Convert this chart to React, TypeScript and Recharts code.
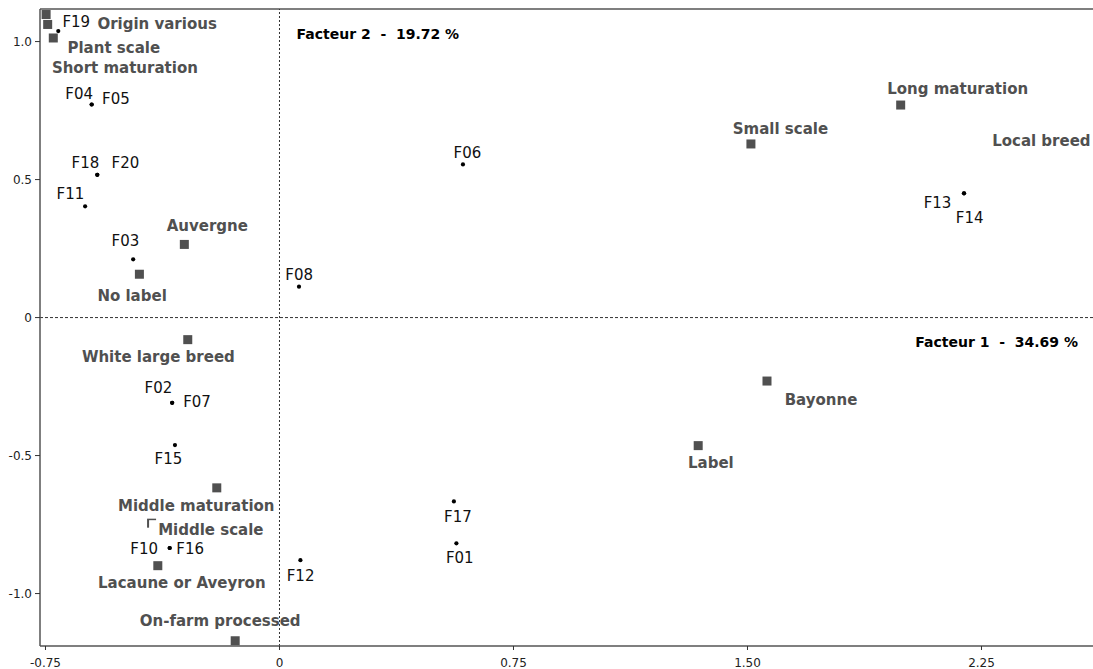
import React from 'react';
import { ScatterChart, Scatter, XAxis, YAxis, ReferenceLine } from 'recharts';

// individuals (factor 1 / factor 2 coordinates)
const indNames = ['F01', 'F02', 'F03', 'F04', 'F05', 'F06', 'F07', 'F08', 'F10', 'F11', 'F12', 'F13', 'F14', 'F15', 'F16', 'F17', 'F18', 'F19', 'F20'];
const indF1 = [0.567, -0.344, -0.469, -0.602, -0.602, 0.588, -0.344, 0.0625, -0.352, -0.623, 0.067, 2.194, 2.194, -0.335, -0.352, 0.559, -0.584, -0.709, -0.584];
const indF2 = [-0.818, -0.309, 0.211, 0.772, 0.772, 0.555, -0.309, 0.112, -0.835, 0.403, -0.879, 0.45, 0.45, -0.462, -0.835, -0.666, 0.517, 1.038, 0.517];

// modalities
const modNames = ['Origin various', 'Short maturation', 'Plant scale', 'Auvergne', 'No label', 'White large breed', 'Middle maturation', 'Middle scale', 'Lacaune or Aveyron', 'On-farm processed', 'Label', 'Bayonne', 'Small scale', 'Long maturation', 'Local breed'];
const modF1 = [-0.748, -0.743, -0.725, -0.305, -0.449, -0.294, -0.201, -0.41, -0.39, -0.142, 1.342, 1.5625, 1.511, 1.991, 2.72];
const modF2 = [1.098, 1.062, 1.013, 0.265, 0.157, -0.08, -0.617, -0.745, -0.899, -1.171, -0.464, -0.23, 0.629, 0.77, 0.589];

const xTicks = [-0.75, 0, 0.75, 1.5, 2.25];
const yTicks = [-1, -0.5, 0, 0.5, 1];
const X_DOMAIN: [number, number] = [-0.7676, 2.6074];
const Y_DOMAIN: [number, number] = [-1.19, 1.118];

// label offsets from the marker (text centre, baseline)
const indLabelPos: Record<string, [number, number]> = {
  F01: [3.4, 20], F02: [-13.8, -10], F03: [-7.8, -13.6], F04: [-12.5, -5.8], F05: [24.2, 0],
  F06: [4.5, -6.6], F07: [24.9, 4.6], F08: [0.2, -6.7], F10: [-25.5, 6], F11: [-14.7, -7],
  F12: [0.2, 20.7], F13: [-26.5, 15], F14: [5.7, 30], F15: [-6.5, 19.3], F16: [20.5, 6],
  F17: [4, 20.4], F18: [-11.8, -6.4], F19: [18, -4.5], F20: [28.2, -6.4],
};
const modLabelPos: Record<string, [number, number, string?]> = {
  'Origin various': [111, 14.5], 'Short maturation': [77.2, 48.2], 'Plant scale': [60.5, 15],
  Auvergne: [23, -13.3], 'No label': [-7.3, 26.7], 'White large breed': [-29.4, 22.3],
  'Middle maturation': [-20.5, 23], 'Middle scale': [59.3, 12], 'Lacaune or Aveyron': [24, 22.3],
  'On-farm processed': [-15, -14.7], Label: [12.7, 22.3], Bayonne: [54, 24],
  'Small scale': [29.5, -9.7], 'Long maturation': [57, -10.7], 'Local breed': [-136, -9.3, 'start'],
};

const individuals = indNames.map((name, i) => ({ name, x: indF1[i], y: indF2[i] }));
const modalities = modNames.map((name, i) => ({ name, x: modF1[i], y: modF2[i] }));

const FONT = '"DejaVu Sans", sans-serif';

const IndDot = (props: any) => {
  const { cx, cy, payload } = props;
  const [dx, dy] = indLabelPos[payload.name] || [0, -6];
  return (
    <g>
      <circle cx={cx} cy={cy} r={2.1} fill="#000" />
      <text x={cx + dx} y={cy + dy} textAnchor="middle" fontFamily={FONT} fontSize={15} fill="#111">
        {payload.name}
      </text>
    </g>
  );
};

const ModSquare = (props: any) => {
  const { cx, cy, payload } = props;
  const [dx, dy, anchor] = modLabelPos[payload.name] || [0, -8];
  const masked = payload.name === 'Middle scale';
  return (
    <g>
      <rect x={cx - 4.5} y={cy - 4.5} width={9} height={9} fill="#505050" />
      {masked && <rect x={cx - 2.5} y={cy - 3} width={117} height={19} fill="#fff" />}
      <text x={cx + dx} y={cy + dy} textAnchor={anchor || 'middle'} fontFamily={FONT} fontSize={15} fontWeight="bold" fill="#505050">
        {payload.name}
      </text>
    </g>
  );
};

const Factor2Label = (props: any) => {
  const { viewBox } = props;
  return (
    <text x={viewBox.x + 17} y={viewBox.y + 30} fontFamily={FONT} fontSize={14} fontWeight="bold" fill="#000" style={{ whiteSpace: 'pre' }}>
      {'Facteur 2  -  19.72 %'}
    </text>
  );
};

const Factor1Label = (props: any) => {
  const { viewBox } = props;
  return (
    <text x={viewBox.x + viewBox.width - 15} y={viewBox.y + 29} textAnchor="end" fontFamily={FONT} fontSize={14} fontWeight="bold" fill="#000" style={{ whiteSpace: 'pre' }}>
      {'Facteur 1  -  34.69 %'}
    </text>
  );
};

export default function App() {
  return (
    <div style={{ position: 'absolute', left: 0, top: 0, width: 1093, height: 669, background: '#fff' }}>
      <ScatterChart width={1093} height={669} margin={{ top: 9, right: 0, bottom: 0, left: 0 }}>
        <XAxis
          type="number"
          dataKey="x"
          domain={X_DOMAIN}
          allowDataOverflow
          ticks={xTicks}
          tickFormatter={(v: number) => (v === 0 ? '0' : v.toFixed(2))}
          height={23}
          tickSize={4}
          tickMargin={8}
          axisLine={{ stroke: '#555', strokeWidth: 1.5 }}
          tickLine={{ stroke: '#333' }}
          tick={{ fontSize: 12, fill: '#222', fontFamily: FONT }}
        />
        <YAxis
          type="number"
          dataKey="y"
          domain={Y_DOMAIN}
          allowDataOverflow
          ticks={yTicks}
          tickFormatter={(v: number) => (v === 0 ? '0' : v.toFixed(1))}
          width={40}
          tickSize={5}
          tickMargin={3}
          axisLine={{ stroke: '#555', strokeWidth: 1.5 }}
          tickLine={{ stroke: '#333' }}
          tick={{ fontSize: 12, fill: '#222', fontFamily: FONT }}
        />
        <ReferenceLine y={Y_DOMAIN[1]} stroke="#555" strokeWidth={1.5} ifOverflow="visible" />
        <ReferenceLine x={0} stroke="#333" strokeDasharray="2 2" label={<Factor2Label />} />
        <ReferenceLine y={0} stroke="#333" strokeDasharray="3 2" label={<Factor1Label />} />
        <Scatter data={individuals} shape={<IndDot />} isAnimationActive={false} />
        <Scatter data={modalities} shape={<ModSquare />} isAnimationActive={false} />
      </ScatterChart>
    </div>
  );
}
